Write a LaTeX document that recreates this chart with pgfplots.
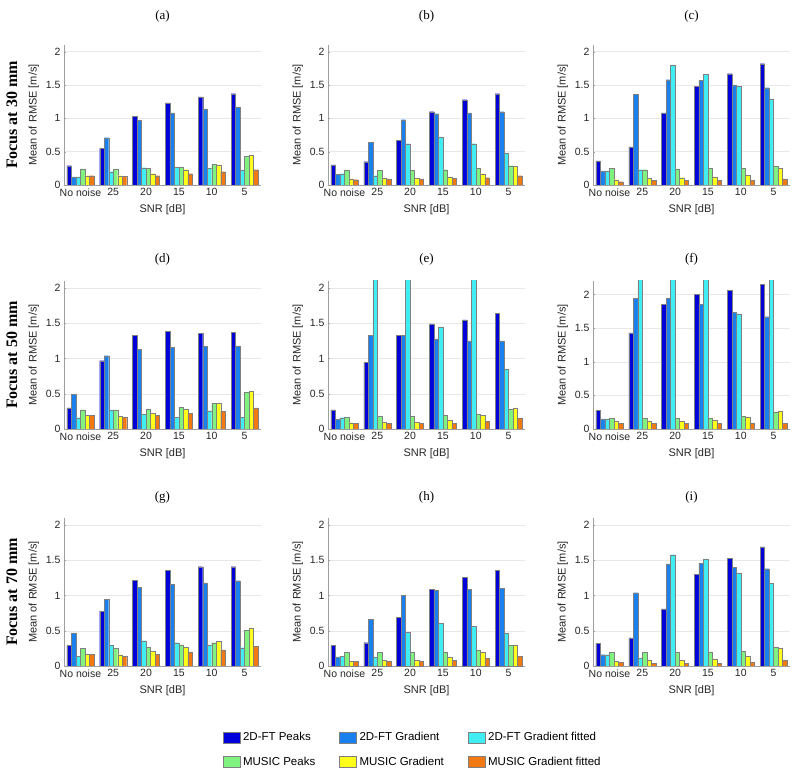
\documentclass[border=0pt]{standalone}
\usepackage{pgfplots}
\pgfplotsset{compat=1.18}
\usepackage{pgfplotstable}
\usepackage{fontspec}
\setmainfont{Liberation Sans}
\newfontfamily\serif{Liberation Serif}

\definecolor{c1}{rgb}{0.0,0.0,0.85}
\definecolor{c2}{rgb}{0.10,0.50,0.93}
\definecolor{c3}{rgb}{0.25,0.93,0.95}
\definecolor{c4}{rgb}{0.50,0.95,0.50}
\definecolor{c5}{rgb}{1.0,1.0,0.10}
\definecolor{c6}{rgb}{0.95,0.47,0.07}

% columns: 2D-FT Peaks, 2D-FT Gradient, 2D-FT Gradient fitted, MUSIC Peaks, MUSIC Gradient, MUSIC Gradient fitted
\pgfplotstableread{
x a b c d e f
0 0.29 0.12 0.12 0.24 0.14 0.14
1 0.55 0.71 0.20 0.24 0.14 0.13
2 1.03 0.97 0.26 0.25 0.17 0.14
3 1.23 1.08 0.27 0.27 0.23 0.17
4 1.32 1.14 0.25 0.31 0.30 0.20
5 1.37 1.17 0.22 0.43 0.45 0.23
}\tA
\pgfplotstableread{
x a b c d e f
0 0.30 0.16 0.17 0.22 0.09 0.08
1 0.35 0.64 0.14 0.22 0.10 0.09
2 0.67 0.98 0.62 0.22 0.10 0.09
3 1.10 1.07 0.72 0.23 0.12 0.10
4 1.28 1.08 0.62 0.25 0.17 0.11
5 1.37 1.10 0.48 0.29 0.28 0.14
}\tB
\pgfplotstableread{
x a b c d e f
0 0.36 0.21 0.21 0.25 0.08 0.05
1 0.57 1.36 0.23 0.23 0.10 0.07
2 1.08 1.58 1.80 0.24 0.11 0.07
3 1.48 1.57 1.66 0.25 0.12 0.07
4 1.67 1.50 1.48 0.25 0.15 0.07
5 1.82 1.46 1.29 0.28 0.25 0.09
}\tC
\pgfplotstableread{
x a b c d e f
0 0.30 0.49 0.16 0.27 0.19 0.19
1 0.97 1.04 0.27 0.27 0.18 0.17
2 1.33 1.13 0.21 0.28 0.22 0.19
3 1.39 1.16 0.17 0.31 0.28 0.22
4 1.36 1.17 0.26 0.36 0.36 0.25
5 1.37 1.18 0.17 0.52 0.54 0.30
}\tD
\pgfplotstableread{
x a b c d e f
0 0.27 0.14 0.16 0.17 0.09 0.08
1 0.95 1.33 2.50 0.18 0.10 0.08
2 1.33 1.33 2.50 0.18 0.10 0.08
3 1.49 1.28 1.45 0.19 0.13 0.08
4 1.55 1.25 2.50 0.21 0.19 0.11
5 1.64 1.25 0.85 0.28 0.30 0.15
}\tE
\pgfplotstableread{
x a b c d e f
0 0.28 0.15 0.15 0.16 0.11 0.08
1 1.43 1.94 2.50 0.16 0.12 0.08
2 1.85 1.94 2.50 0.16 0.12 0.08
3 2.00 1.85 2.50 0.16 0.13 0.08
4 2.06 1.73 1.71 0.19 0.18 0.09
5 2.15 1.67 2.50 0.25 0.27 0.08
}\tF
\pgfplotstableread{
x a b c d e f
0 0.29 0.47 0.14 0.25 0.17 0.17
1 0.78 0.95 0.30 0.25 0.16 0.14
2 1.22 1.12 0.36 0.27 0.21 0.17
3 1.36 1.16 0.33 0.30 0.27 0.20
4 1.41 1.18 0.30 0.33 0.35 0.23
5 1.41 1.21 0.26 0.51 0.54 0.28
}\tG
\pgfplotstableread{
x a b c d e f
0 0.29 0.13 0.14 0.19 0.07 0.07
1 0.33 0.66 0.12 0.19 0.08 0.07
2 0.69 1.00 0.48 0.19 0.08 0.07
3 1.09 1.07 0.61 0.20 0.12 0.08
4 1.26 1.09 0.56 0.22 0.19 0.11
5 1.36 1.10 0.47 0.29 0.30 0.14
}\tH
\pgfplotstableread{
x a b c d e f
0 0.32 0.16 0.16 0.19 0.07 0.05
1 0.40 1.04 0.11 0.19 0.08 0.04
2 0.81 1.45 1.58 0.19 0.08 0.04
3 1.30 1.46 1.52 0.20 0.10 0.04
4 1.53 1.40 1.32 0.21 0.14 0.05
5 1.69 1.38 1.17 0.27 0.25 0.08
}\tI

\tikzset{rowlab/.style={rotate=90, font=\serif\bfseries\fontsize{16}{18}\selectfont}}

\pgfplotsset{
  panel/.style={
    scale only axis, width=197pt,
    ybar=0pt, bar width=4.5pt,
    xmin=-0.5, xmax=5.5, ymin=0, ymax=2.1,
    xtick={0,1,2,3,4,5}, xticklabels={No noise,25,20,15,10,5},
    ytick={0,0.5,1,1.5,2}, yticklabels={0,0.5,1,1.5,2},
    ymajorgrids, grid style={gray!18, line width=0.4pt},
    axis x line*=bottom, axis y line*=left,
    axis line style={gray!75, line width=0.5pt},
    major tick length=2pt, tick align=inside, tick style={gray!75},
    tick label style={font=\fontsize{10.5}{11}\selectfont, text=black!85},
    label style={font=\fontsize{11}{12}\selectfont, text=black!85},
    xlabel={SNR [dB]}, ylabel={Mean of RMSE [m/s]},
    xlabel style={yshift=-1pt},
    title style={font=\serif\fontsize{13}{14}\selectfont, at={(0.5,1)}, anchor=center},
    clip mode=individual,
    every axis plot/.append style={draw=black!50, line width=0.25pt},
    legend image code/.code={\draw[##1] (0pt,-5.5pt) rectangle (17pt,5.5pt);},
  },
}

\newcommand{\bars}[1]{%
  \addplot[fill=c1] table[x=x,y=a]{#1};
  \addplot[fill=c2] table[x=x,y=b]{#1};
  \addplot[fill=c3] table[x=x,y=c]{#1};
  \addplot[fill=c4] table[x=x,y=d]{#1};
  \addplot[fill=c5] table[x=x,y=e]{#1};
  \addplot[fill=c6] table[x=x,y=f]{#1};
}

\begin{document}
\begin{tikzpicture}
\useasboundingbox (0,0) rectangle (800pt,776pt);

% Row 1
\begin{axis}[panel, at={(64pt,591pt)}, height=140pt, title={(a)}, title style={yshift=23pt}]
\bars{\tA}
\node[rowlab] at (rel axis cs:-0.264,0.5) {Focus at 30 mm};
\end{axis}
\begin{axis}[panel, at={(328pt,591pt)}, height=140pt, title={(b)}, title style={yshift=23pt}]
\bars{\tB}
\end{axis}
\begin{axis}[panel, at={(593pt,591pt)}, height=140pt, title={(c)}, title style={yshift=23pt}]
\bars{\tC}
\end{axis}

% Row 2
\begin{axis}[panel, at={(64pt,347pt)}, height=148pt, title={(d)}, title style={yshift=16pt}]
\bars{\tD}
\node[rowlab] at (rel axis cs:-0.264,0.5) {Focus at 50 mm};
\end{axis}
\begin{axis}[panel, at={(328pt,347pt)}, height=148pt, title={(e)}, title style={yshift=16pt}]
\bars{\tE}
\end{axis}
\begin{axis}[panel, at={(593pt,347pt)}, height=148pt, ymax=2.2, title={(f)}, title style={yshift=16pt}]
\bars{\tF}
\end{axis}

% Row 3
\begin{axis}[panel, at={(64pt,110pt)}, height=148pt, title={(g)}, title style={yshift=15pt}]
\bars{\tG}
\node[rowlab] at (rel axis cs:-0.264,0.5) {Focus at 70 mm};
\end{axis}
\begin{axis}[panel, at={(328pt,110pt)}, height=148pt, title={(h)}, title style={yshift=15pt},
  legend columns=3,
  legend style={at={(0.43,-0.42)}, anchor=north, draw=none, fill=none,
    font=\fontsize{11.5}{13}\selectfont, row sep=11pt,
    /tikz/every odd column/.append style={column sep=1pt},
    /tikz/every even column/.append style={column sep=22pt}},
  legend cell align=left]
\bars{\tH}
\legend{2D-FT Peaks, 2D-FT Gradient, 2D-FT Gradient fitted, MUSIC Peaks, MUSIC Gradient, MUSIC Gradient fitted}
\end{axis}
\begin{axis}[panel, at={(593pt,110pt)}, height=148pt, title={(i)}, title style={yshift=15pt}]
\bars{\tI}
\end{axis}
\end{tikzpicture}
\end{document}
